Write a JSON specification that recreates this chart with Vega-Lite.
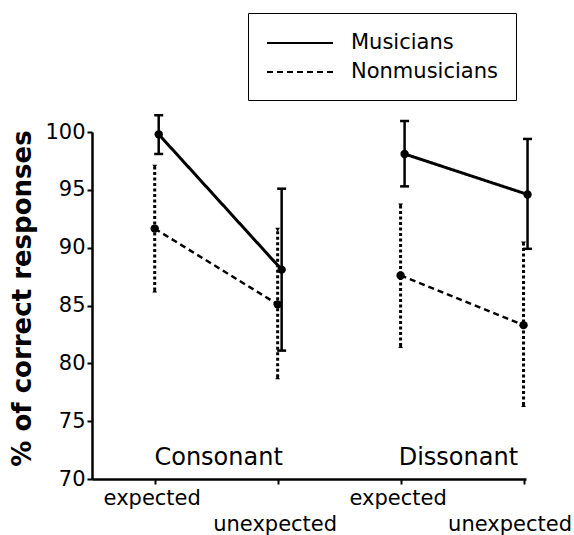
{
  "$schema": "https://vega.github.io/schema/vega-lite/v6.json",
  "width": 434,
  "height": 347,
  "autosize": {"type": "none"},
  "padding": {"left": 92, "top": 132, "right": 48, "bottom": 56},
  "background": "white",
  "config": {
    "font": "DejaVu Sans",
    "view": {"stroke": null},
    "axis": {"domainColor": "black", "domainWidth": 2.5, "tickColor": "black", "tickWidth": 2, "labelColor": "black", "titleColor": "black", "grid": false}
  },
  "datasets": {
    "scores": [
      {"group": "Musicians", "condition": "Consonant", "expectancy": "expected", "x": 1, "mean": 99.8, "lo": 98.1, "hi": 101.45},
      {"group": "Musicians", "condition": "Consonant", "expectancy": "unexpected", "x": 2, "mean": 88.1, "lo": 81.1, "hi": 95.1},
      {"group": "Musicians", "condition": "Dissonant", "expectancy": "expected", "x": 3, "mean": 98.1, "lo": 95.3, "hi": 100.95},
      {"group": "Musicians", "condition": "Dissonant", "expectancy": "unexpected", "x": 4, "mean": 94.6, "lo": 89.9, "hi": 99.4},
      {"group": "Nonmusicians", "condition": "Consonant", "expectancy": "expected", "x": 1, "mean": 91.65, "lo": 86.3, "hi": 97.0},
      {"group": "Nonmusicians", "condition": "Consonant", "expectancy": "unexpected", "x": 2, "mean": 85.1, "lo": 78.8, "hi": 91.55},
      {"group": "Nonmusicians", "condition": "Dissonant", "expectancy": "expected", "x": 3, "mean": 87.6, "lo": 81.5, "hi": 93.65},
      {"group": "Nonmusicians", "condition": "Dissonant", "expectancy": "unexpected", "x": 4, "mean": 83.3, "lo": 76.4, "hi": 90.35}
    ],
    "labels": [
      {"condition": "Consonant", "x": 1.52, "y": 71.2},
      {"condition": "Dissonant", "x": 3.47, "y": 71.2}
    ]
  },
  "layer": [
    {
      "data": {"name": "scores"},
      "transform": [{"filter": "datum.group == 'Musicians'"}],
      "mark": {"type": "line", "color": "black", "strokeWidth": 3, "xOffset": 4, "clip": false},
      "encoding": {
        "x": {"field": "x", "type": "quantitative", "scale": {"domain": [0.49, 4.02], "nice": false, "zero": false},
          "axis": {"values": [1, 2, 3, 4], "title": null, "labelExpr": "datum.value % 2 == 1 ? 'expected' : 'unexpected'", "labelFontSize": 21, "tickSize": 5, "labelOverlap": false, "labelAngle": 0,
            "labelPadding": {"condition": {"test": "datum.value % 2 == 0", "value": 29}, "value": 3},
            "labelOffset": {"condition": {"test": "datum.value == 4", "value": -14}, "value": -3}}},
        "y": {"field": "mean", "type": "quantitative", "scale": {"domain": [70, 100], "nice": false, "zero": false},
          "axis": {"values": [70, 75, 80, 85, 90, 95, 100], "title": "% of correct responses", "titleFontSize": 26, "titleFontWeight": "bold", "titlePadding": 9, "titleY": 166, "labelFontSize": 21, "labelPadding": 2, "tickSize": 5}},
        "detail": {"field": "condition"},
        "strokeDash": {"field": "group", "type": "nominal", "scale": {"domain": ["Musicians", "Nonmusicians"], "range": [[1, 0], [6, 4]]},
          "legend": {"title": null, "orient": "none", "legendX": 156, "legendY": -119, "strokeColor": "black", "padding": 18, "symbolType": "M-1,0H5", "symbolSize": 484, "symbolStrokeWidth": 2, "symbolStrokeColor": "black", "symbolFillColor": "transparent", "labelFontSize": 21, "labelOffset": 61, "rowPadding": 7, "labelColor": "black"}}
      }
    },
    {
      "data": {"name": "scores"},
      "transform": [{"filter": "datum.group == 'Nonmusicians'"}],
      "mark": {"type": "line", "color": "black", "strokeWidth": 2.5, "clip": false},
      "encoding": {
        "x": {"field": "x", "type": "quantitative"},
        "y": {"field": "mean", "type": "quantitative"},
        "detail": {"field": "condition"},
        "strokeDash": {"field": "group", "type": "nominal"}
      }
    },
    {
      "data": {"name": "scores"},
      "transform": [{"filter": "datum.group == 'Musicians'"}],
      "mark": {"type": "rule", "color": "black", "strokeWidth": 2.5, "xOffset": 4, "clip": false},
      "encoding": {
        "x": {"field": "x", "type": "quantitative"},
        "y": {"field": "lo", "type": "quantitative"},
        "y2": {"field": "hi"}
      }
    },
    {
      "data": {"name": "scores"},
      "transform": [{"filter": "datum.group == 'Nonmusicians'"}],
      "mark": {"type": "rule", "color": "black", "strokeWidth": 3, "strokeDash": [3, 2.5], "clip": false},
      "encoding": {
        "x": {"field": "x", "type": "quantitative"},
        "y": {"field": "lo", "type": "quantitative"},
        "y2": {"field": "hi"}
      }
    },
    {
      "data": {"name": "scores"},
      "transform": [{"filter": "datum.group == 'Musicians'"}],
      "mark": {"type": "tick", "color": "black", "orient": "horizontal", "size": 9, "thickness": 2.5, "xOffset": 4, "opacity": 1, "clip": false},
      "encoding": {
        "x": {"field": "x", "type": "quantitative"},
        "y": {"field": "lo", "type": "quantitative"}
      }
    },
    {
      "data": {"name": "scores"},
      "transform": [{"filter": "datum.group == 'Musicians'"}],
      "mark": {"type": "tick", "color": "black", "orient": "horizontal", "size": 9, "thickness": 2.5, "xOffset": 4, "opacity": 1, "clip": false},
      "encoding": {
        "x": {"field": "x", "type": "quantitative"},
        "y": {"field": "hi", "type": "quantitative"}
      }
    },
    {
      "data": {"name": "scores"},
      "transform": [{"filter": "datum.group == 'Nonmusicians'"}],
      "mark": {"type": "point", "shape": "triangle-up", "filled": true, "color": "black", "size": 22, "opacity": 1, "clip": false},
      "encoding": {
        "x": {"field": "x", "type": "quantitative"},
        "y": {"field": "lo", "type": "quantitative"}
      }
    },
    {
      "data": {"name": "scores"},
      "transform": [{"filter": "datum.group == 'Nonmusicians'"}],
      "mark": {"type": "point", "shape": "triangle-down", "filled": true, "color": "black", "size": 22, "opacity": 1, "clip": false},
      "encoding": {
        "x": {"field": "x", "type": "quantitative"},
        "y": {"field": "hi", "type": "quantitative"}
      }
    },
    {
      "data": {"name": "scores"},
      "transform": [{"filter": "datum.group == 'Musicians'"}],
      "mark": {"type": "circle", "color": "black", "size": 70, "opacity": 1, "xOffset": 4, "clip": false},
      "encoding": {
        "x": {"field": "x", "type": "quantitative"},
        "y": {"field": "mean", "type": "quantitative"}
      }
    },
    {
      "data": {"name": "scores"},
      "transform": [{"filter": "datum.group == 'Nonmusicians'"}],
      "mark": {"type": "circle", "color": "black", "size": 70, "opacity": 1, "clip": false},
      "encoding": {
        "x": {"field": "x", "type": "quantitative"},
        "y": {"field": "mean", "type": "quantitative"}
      }
    },
    {
      "data": {"name": "labels"},
      "mark": {"type": "text", "fontSize": 24, "color": "black", "baseline": "alphabetic", "align": "center"},
      "encoding": {
        "x": {"field": "x", "type": "quantitative"},
        "y": {"field": "y", "type": "quantitative"},
        "text": {"field": "condition"}
      }
    }
  ]
}
